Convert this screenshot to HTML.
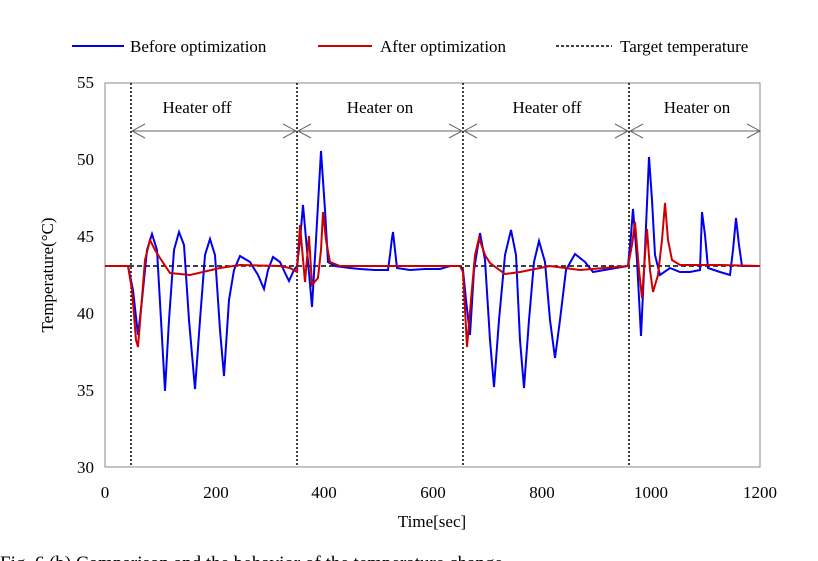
<!DOCTYPE html>
<html><head><style>body{margin:0;background:#fff}svg{display:block}</style></head><body>
<svg width="818" height="561" viewBox="0 0 818 561" xmlns="http://www.w3.org/2000/svg" font-family="Liberation Serif, serif" font-size="17">
<rect x="105" y="83" width="655" height="384" fill="none" stroke="#888" stroke-width="1"/>
<g fill="#000" text-anchor="end">
<text x="94" y="88">55</text><text x="94" y="165">50</text><text x="94" y="242">45</text><text x="94" y="319">40</text><text x="94" y="396">35</text><text x="94" y="473">30</text>
</g>
<g fill="#000" text-anchor="middle">
<text x="105" y="498">0</text><text x="216" y="498">200</text><text x="324" y="498">400</text><text x="433" y="498">600</text><text x="542" y="498">800</text><text x="651" y="498">1000</text><text x="760" y="498">1200</text>
<text x="432" y="527">Time[sec]</text>
<text transform="translate(53,275) rotate(-90)">Temperature(°C)</text>
<text x="197" y="113">Heater off</text><text x="380" y="113">Heater on</text><text x="547" y="113">Heater off</text><text x="697" y="113">Heater on</text>
</g>
<g stroke="#000" stroke-width="1.5" stroke-dasharray="2,2"><line x1="131" y1="83" x2="131" y2="467"/><line x1="297" y1="83" x2="297" y2="467"/><line x1="463" y1="83" x2="463" y2="467"/><line x1="629" y1="83" x2="629" y2="467"/></g>
<g stroke="#666" stroke-width="1" fill="none">
<line x1="132" y1="131" x2="296" y2="131"/><polyline points="145,124 132,131 145,138"/><polyline points="283,124 296,131 283,138"/>
<line x1="298" y1="131" x2="462" y2="131"/><polyline points="311,124 298,131 311,138"/><polyline points="449,124 462,131 449,138"/>
<line x1="464" y1="131" x2="628" y2="131"/><polyline points="477,124 464,131 477,138"/><polyline points="615,124 628,131 615,138"/>
<line x1="630" y1="131" x2="760" y2="131"/><polyline points="643,124 630,131 643,138"/><polyline points="747,124 760,131 747,138"/>
</g>
<line x1="105" y1="266" x2="760" y2="266" stroke="#000" stroke-width="1.5" stroke-dasharray="5,3"/>
<polyline fill="none" stroke="#0000ee" stroke-width="2" points="105,266 128,266 133,290 138,335 142,300 147,250 152,234 157,250 161,320 165,391 169,320 174,250 179,232 184,245 189,320 195,389 200,320 205,255 210,239 215,255 220,330 224,376 229,300 234,270 240,256 250,262 258,275 264,289 268,270 273,257 280,262 286,275 289,281 294,270 297,266 300,240 303,205 307,250 312,307 316,240 321,151 325,210 328,262 335,266 350,268 360,269 375,270 388,270 390,255 392,238 393,232 395,250 397,268 410,270 425,269 440,269 450,266 460,266 463,270 466,300 470,335 474,270 480,233 485,260 490,340 494,387 499,320 505,255 511,230 516,255 520,340 524,388 529,320 534,262 539,241 545,262 550,320 555,358 560,320 566,270 575,254 585,262 593,272 610,269 628,266 631,235 633,209 637,260 641,336 645,250 649,157 652,200 655,255 660,275 670,268 680,272 690,272 700,270 702,212 705,235 708,268 720,272 730,275 733,250 736,218 739,245 742,266 760,266"/>
<polyline fill="none" stroke="#cc0000" stroke-width="2" points="105,266 128,266 132,290 136,340 138,347 141,310 145,260 150,240 155,250 160,258 170,273 190,275 220,268 240,265 280,266 290,268 297,272 300,225 305,282 309,236 312,285 318,278 321,250 323,212 326,240 330,262 340,266 460,266 463,272 467,347 471,300 475,255 479,238 485,255 490,263 505,274 520,272 550,266 580,270 628,266 632,245 635,222 639,270 642,298 645,255 647,229 650,270 653,292 658,275 662,240 665,203 668,240 672,260 680,265 720,265 760,266"/>
<line x1="72" y1="46" x2="124" y2="46" stroke="#0000ee" stroke-width="2"/>
<text x="130" y="52">Before optimization</text>
<line x1="318" y1="46" x2="372" y2="46" stroke="#cc0000" stroke-width="2"/>
<text x="380" y="52">After optimization</text>
<line x1="556" y1="46" x2="612" y2="46" stroke="#000" stroke-width="1.5" stroke-dasharray="3,2"/>
<text x="620" y="52">Target temperature</text>
<text x="0" y="569" font-size="19">Fig. 6 (b)  Comparison and the behavior of the temperature change</text>
</svg>
</body></html>
